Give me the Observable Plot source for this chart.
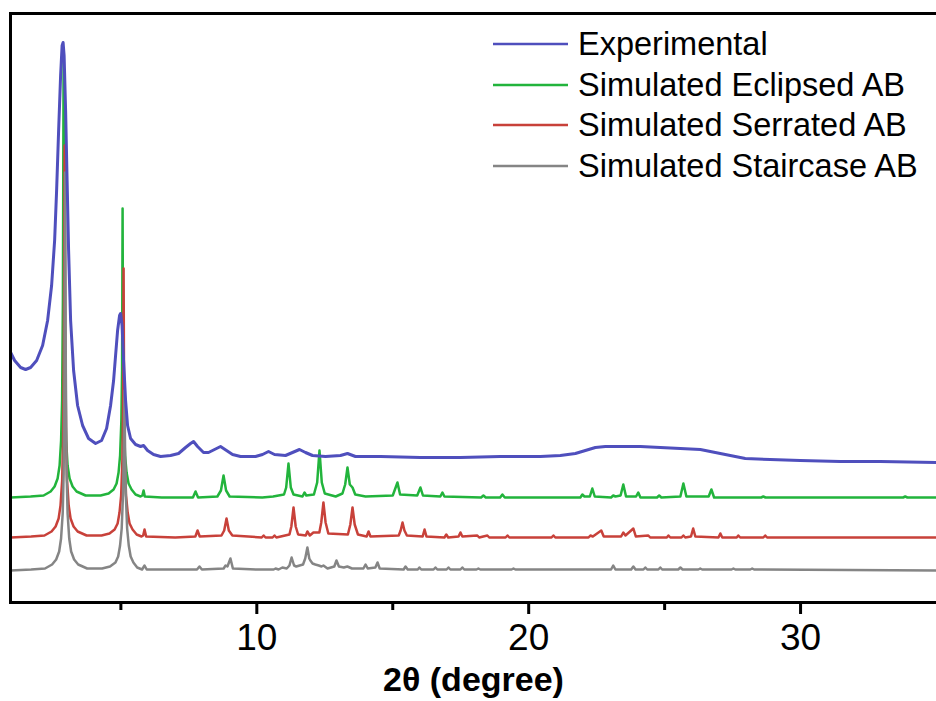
<!DOCTYPE html>
<html>
<head>
<meta charset="utf-8">
<script src="https://cdn.jsdelivr.net/npm/d3@7"></script>
<script src="https://cdn.jsdelivr.net/npm/@observablehq/plot@0.6"></script>
<style>
  html, body { margin: 0; padding: 0; background: #fff; }
  #wrap { position: relative; width: 936px; height: 701px; overflow: hidden; font-family: "Liberation Sans", Arial, sans-serif; }
  #legend { position: absolute; left: 493px; top: 24px; }
  .row { display: flex; align-items: center; height: 40.5px; }
  .row svg { width: 75px; height: 6px; margin-right: 10px; }
  .row span { font-size: 32.5px; color: #000; white-space: nowrap; line-height: 1; }
</style>
</head>
<body>
<div id="wrap"></div>
<script>
// Series names and colours
const seriesNames = ["Experimental", "Simulated Eclipsed AB", "Simulated Serrated AB", "Simulated Staircase AB"];
const seriesColors = ["#4f4fbd", "#22b43c", "#c8413a", "#858585"];
const xTicksMajor = [10, 20, 30];
const xTicksMinor = [5, 15, 25];

// [2θ (degree), intensity (a.u.)]
const experimental = [
  [0.945,250],[1.092,242],[1.313,235],[1.496,233],[1.680,235],[1.901,242],[2.121,257],[2.305,282],
  [2.452,317],[2.563,362],[2.636,412],[2.710,472],[2.783,527],[2.838,557],[2.875,560],[2.912,547],
  [2.967,492],[3.022,422],[3.077,352],[3.151,282],[3.261,232],[3.408,197],[3.592,177],[3.812,164],
  [4.070,159],[4.290,162],[4.474,174],[4.621,197],[4.732,222],[4.805,247],[4.879,272],[4.952,287],
  [4.989,289],[5.044,277],[5.099,242],[5.173,202],[5.246,177],[5.357,164],[5.540,158],[5.724,156],
  [5.835,157],[5.982,152],[6.202,148],[6.460,146],[6.827,147],[7.121,149],[7.379,155],[7.563,159],
  [7.673,161],[7.820,156],[8.040,150],[8.224,150],[8.445,153],[8.665,156],[8.886,152],[9.107,148],
  [9.401,146],[9.952,146],[10.210,148],[10.430,151],[10.651,148],[11.055,147],[11.312,150],[11.570,153],
  [11.790,150],[12.048,147],[12.526,146],[13.077,147],[13.335,149],[13.629,146],[14.548,146],[16.018,145],
  [17.489,145],[18.960,146],[20.430,146],[21.165,147],[21.717,149],[22.085,152],[22.452,155],[22.820,156],
  [23.371,156],[24.107,156],[24.842,155],[25.577,154],[26.313,153],[26.864,150],[27.415,147],[27.967,144],
  [28.886,143],[29.989,142],[31.460,141],[32.930,141],[35.0,140]
];

const eclipsed = [
  [0.945,105],[1.68,106],[2.158,107],[2.416,111],[2.563,116],[2.673,124],[2.746,137],[2.801,162],
  [2.838,202],[2.868,302],[2.893,544],[2.919,302],[2.949,202],[2.985,162],[3.040,137],[3.114,124],
  [3.224,116],[3.371,111],[3.702,107],[4.254,107],[4.548,109],[4.732,113],[4.842,119],[4.915,130],
  [4.971,147],[5.018,182],[5.044,232],[5.063,394],[5.081,232],[5.107,182],[5.154,147],[5.210,130],
  [5.283,119],[5.393,113],[5.540,108],[5.724,106],[5.79,107],[5.835,112],[5.88,106],[6.5,105],
  [7.65,105],[7.746,111],[7.84,105],[8.55,106],[8.68,112],[8.776,127],[8.87,112],[9.0,106],
  [10.2,105],[10.6,106],[11.0,108],[11.08,115],[11.165,139],[11.25,115],[11.35,108],[11.68,106],
  [11.754,110],[11.82,107],[12.1,108],[12.22,120],[12.305,152],[12.39,120],[12.5,109],[12.9,106],
  [13.15,109],[13.25,118],[13.335,135],[13.42,118],[13.52,115],[13.62,108],[14.0,106],[15.0,107],
  [15.173,120],[15.27,108],[15.9,107],[16.018,115],[16.11,107],[16.75,106],[16.827,110],[16.9,106],
  [18.25,105],[18.335,107],[18.42,105],[18.95,105],[19.033,108],[19.12,105],[21.9,105],[21.974,108],
  [22.05,106],[22.25,106],[22.34,114],[22.43,106],[23.03,105],[23.11,107],[23.19,106],[23.38,107],
  [23.48,118],[23.58,106],[23.95,106],[24.03,110],[24.11,105],[24.72,105],[24.8,107],[24.88,105],
  [25.58,106],[25.69,119],[25.8,106],[26.62,106],[26.72,113],[26.82,105],[28.55,105],[28.63,106],
  [28.71,105],[33.77,105],[33.85,106],[33.93,105],[35.0,105]
];

const serrated = [
  [0.945,65],[1.7,66],[2.19,67],[2.45,71],[2.60,76],[2.71,84],[2.78,97],[2.84,122],[2.875,162],
  [2.905,262],[2.93,457],[2.955,262],[2.985,162],[3.02,122],[3.08,97],[3.15,84],[3.26,76],[3.41,71],
  [3.74,67],[4.29,67],[4.58,69],[4.77,73],[4.88,79],[4.95,90],[5.01,107],[5.055,142],[5.08,192],
  [5.10,334],[5.12,192],[5.145,142],[5.19,107],[5.25,90],[5.32,79],[5.43,73],[5.58,68],[5.76,66],
  [5.82,67],[5.87,73],[5.93,66],[7.0,65],[7.74,66],[7.82,72],[7.9,66],[8.7,67],[8.8,72],[8.886,84],
  [8.97,72],[9.1,67],[10.18,65],[10.25,67],[10.32,65],[10.58,65],[10.65,67],[10.72,65],[11.2,68],
  [11.27,76],[11.35,95],[11.43,76],[11.52,68],[11.8,67],[11.86,71],[11.95,67],[12.08,70],[12.3,70],
  [12.37,80],[12.45,100],[12.53,80],[12.63,69],[13.35,68],[13.44,78],[13.52,95],[13.6,78],[13.72,68],
  [14.04,66],[14.11,71],[14.18,66],[15.22,67],[15.29,72],[15.36,80],[15.43,72],[15.52,67],[16.1,66],
  [16.17,73],[16.24,66],[16.9,65],[16.97,68],[17.04,65],[17.42,66],[17.49,70],[17.56,66],[18.11,67],
  [18.18,65],[18.48,67],[18.55,65],[19.15,65],[19.22,67],[19.29,65],[20.84,65],[20.91,67],[20.98,65],
  [22.2,65],[22.27,67],[22.36,66],[22.67,72],[22.76,66],[23.4,66],[23.48,70],[23.56,67],[23.85,74],
  [23.94,66],[24.4,67],[24.47,65],[25.08,65],[25.14,67],[25.21,65],[25.62,65],[25.69,67],[25.76,65],
  [25.97,66],[26.05,74],[26.13,66],[26.98,65],[27.05,69],[27.12,65],[27.65,65],[27.71,67],[27.78,65],
  [28.63,65],[28.7,67],[28.77,65],[35.0,65]
];

const staircase = [
  [0.945,32],[1.7,33],[2.21,34],[2.47,38],[2.62,43],[2.73,51],[2.80,64],[2.86,89],[2.895,129],
  [2.925,229],[2.95,430],[2.975,229],[3.005,129],[3.04,89],[3.10,64],[3.17,51],[3.28,43],[3.43,38],
  [3.76,34],[4.31,34],[4.60,36],[4.80,40],[4.90,46],[4.97,57],[5.03,74],[5.08,109],[5.105,150],
  [5.13,212],[5.155,150],[5.18,109],[5.23,74],[5.29,57],[5.36,46],[5.46,40],[5.60,35],[5.78,33],
  [5.87,37],[5.95,33],[7.8,33],[7.89,36],[7.98,33],[8.78,34],[8.85,37],[8.92,36],[9.03,44],[9.12,34],
  [10.0,33],[10.62,33],[10.69,34],[10.8,33],[10.94,35],[11.1,34],[11.2,37],[11.28,45],[11.37,37],
  [11.45,36],[11.7,38],[11.78,44],[11.86,55],[11.93,44],[11.97,42],[12.05,39],[12.15,38],[12.28,37],
  [12.38,36],[12.45,37],[12.6,34],[12.85,36],[12.93,42],[13.02,36],[13.2,35],[13.33,36],[13.5,34],
  [13.92,34],[14.0,38],[14.08,34],[14.36,35],[14.44,40],[14.52,34],[15.4,33],[15.47,36],[15.55,33],
  [15.92,33],[15.98,35],[16.05,33],[16.5,33],[16.57,35],[16.64,33],[16.98,33],[17.05,35],[17.12,33],
  [17.49,33],[17.56,35],[17.63,33],[18.08,33],[18.15,34],[18.22,33],[19.37,33],[19.44,34],[19.51,33],
  [23.03,33],[23.11,37],[23.19,33],[23.77,33],[23.85,36],[23.93,33],[24.22,33],[24.29,35],[24.36,33],
  [24.77,33],[24.84,35],[24.91,33],[25.5,33],[25.58,35],[25.66,33],[26.24,33],[26.31,34],[26.38,33],
  [27.46,33],[27.53,34],[27.6,33],[28.15,33],[28.22,34],[28.29,33],[35.0,32]
];

const seriesData = [experimental, eclipsed, serrated, staircase];
const strokeWidths = [3, 2.5, 2.5, 2.5];

const font = '"Liberation Sans", Arial, sans-serif';
const drawOrder = [1, 2, 3, 0];

const chart = Plot.plot({
  width: 936,
  height: 701,
  marginLeft: 10,
  marginRight: 0,
  marginTop: 13,
  marginBottom: 99,
  style: { fontFamily: font, background: "#fff", color: "#000", overflow: "visible" },
  x: { domain: [0.94, 35], type: "linear" },
  y: { domain: [0, 589], axis: null },
  marks: [
    ...drawOrder.map(i => Plot.line(seriesData[i], {
      x: d => d[0], y: d => d[1], stroke: seriesColors[i], strokeWidth: strokeWidths[i], strokeLinejoin: "round"
    })),
    Plot.frame({ anchor: "left", stroke: "#000", strokeWidth: 3 }),
    Plot.frame({ anchor: "top", stroke: "#000", strokeWidth: 3 }),
    Plot.frame({ anchor: "bottom", stroke: "#000", strokeWidth: 3 }),
    Plot.axisX(xTicksMajor, { tickSize: 12, tickPadding: 9, strokeWidth: 3, fontSize: 37, label: null, tickFormat: d => String(d) }),
    Plot.axisX(xTicksMinor, { tickSize: 8, strokeWidth: 3, label: null, tickFormat: () => "" }),
    Plot.text(["2θ (degree)"], { frameAnchor: "bottom", lineAnchor: "middle", dy: 78, fontSize: 34, fontWeight: "bold", fill: "#000" })
  ]
});

const wrap = document.getElementById("wrap");
wrap.appendChild(chart);

// Legend
const legend = document.createElement("div");
legend.id = "legend";
seriesNames.forEach((name, i) => {
  const row = document.createElement("div");
  row.className = "row";
  row.innerHTML = `<svg viewBox="0 0 75 6"><line x1="0" y1="3" x2="75" y2="3" stroke="${seriesColors[i]}" stroke-width="2.4"/></svg><span>${name}</span>`;
  legend.appendChild(row);
});
wrap.appendChild(legend);
</script>
</body>
</html>
